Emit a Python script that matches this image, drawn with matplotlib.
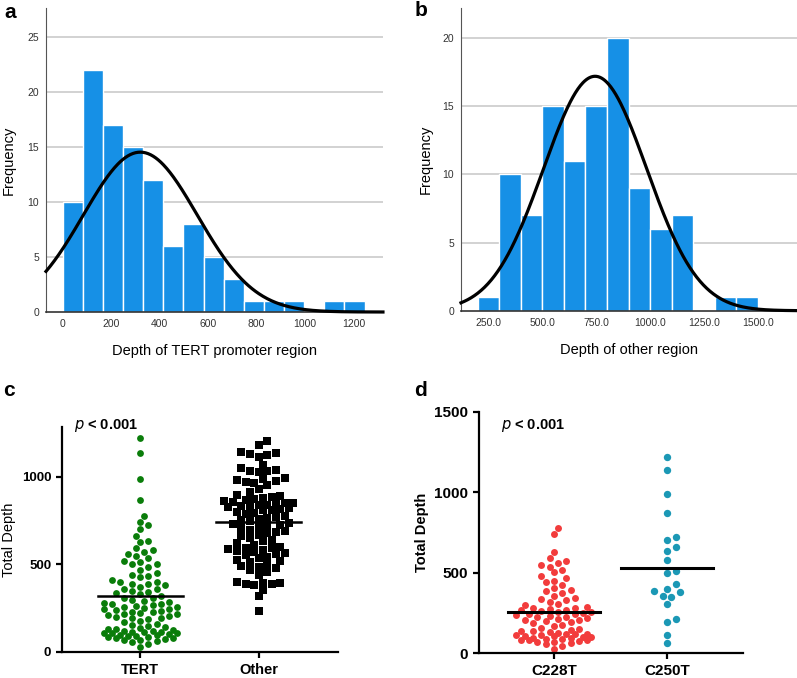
import numpy as np
import matplotlib
matplotlib.use('Agg')
import matplotlib.pyplot as plt

plt.rcParams['font.family'] = ['Liberation Sans', 'DejaVu Sans']

# --- histogram a: depth of TERT promoter region ---
tert_bin_start = 0
tert_bin_width = 83
tert_counts = [10, 22, 17, 15, 12, 6, 8, 5, 3, 1, 1, 1, 0, 1, 1]
tert_fit_mean = 320
tert_fit_sd = 235

# --- histogram b: depth of other region ---
other_bin_start = 200
other_bin_width = 100
other_counts = [1, 10, 7, 15, 11, 15, 20, 9, 6, 7, 0, 1, 1]
other_fit_mean = 745
other_fit_sd = 239

# --- scatter d: depth per mutation type ---
c228t = [28, 45, 55, 62, 68, 72, 76, 80, 82,
         85, 88, 92, 95, 97, 101, 104, 106, 109, 111, 114, 117, 120, 123, 127,
         131, 136, 140, 147, 153, 160,
         170, 178, 186, 193, 198, 204, 208, 213, 219, 224, 228, 233, 238, 242, 246,
         251, 255, 258, 262, 266, 270, 274, 279, 284, 290, 298, 308, 320, 328,
         335, 342, 358, 372, 384, 396, 408,
         425, 440, 452, 468, 482,
         503, 520, 538, 548, 560, 572,
         590, 627, 741, 778]
c250t = [1219, 1137, 988, 869, 722, 702, 660, 633, 582, 513, 499, 433,
         387, 397, 379, 348, 358, 308, 213, 193, 114, 64]

# --- scatter c: TERT vs other region ---
tert_depth = c228t + c250t
other_depth = [234,
               318, 352, 380, 384, 388, 391, 395, 398,
               440, 455, 466, 477, 486, 492, 498,
               510, 518, 526, 534, 542, 550, 556, 562, 568, 574, 580, 586, 590, 594, 598,
               610, 620, 630, 640, 650, 660, 668, 676, 684, 690, 698,
               705, 712, 718, 725, 731, 738, 744, 750, 757, 764, 771, 778, 785, 791, 797,
               808, 812, 816, 820, 824, 828, 832, 836, 840, 844,
               848, 852, 857, 862, 867, 872, 878, 884, 890, 897,
               910, 930, 950, 965, 972, 976, 980, 985, 992,
               1025, 1030, 1035, 1040, 1052, 1065,
               1115, 1122, 1128, 1133, 1140, 1180, 1204]

bar_color = '#1690e6'
fig = plt.figure(figsize=(7.97, 6.78), dpi=100)


def draw_hist(rect, start, width, counts, mu, sd, xlim, ylim, yticks, xticks, xticklabels, xlabel, ylab_x):
    ax = fig.add_axes(rect)
    edges = start + width * np.arange(len(counts))
    ax.bar(edges, counts, width=width, align='edge', color=bar_color,
           edgecolor='white', linewidth=1.0, zorder=2)
    xs = np.linspace(xlim[0], xlim[1], 400)
    n = sum(counts)
    ys = n * width / (sd * np.sqrt(2 * np.pi)) * np.exp(-(xs - mu) ** 2 / (2 * sd ** 2))
    ax.plot(xs, ys, color='black', lw=2.3, zorder=3, clip_on=False)
    ax.set_xlim(xlim)
    ax.set_ylim(ylim)
    ax.set_yticks(yticks)
    ax.set_xticks(xticks)
    ax.set_xticklabels(xticklabels)
    for t in yticks[1:]:
        ax.axhline(t, color='#cfcfcf', lw=1.3, zorder=1)
    for s in ['top', 'right']:
        ax.spines[s].set_visible(False)
    ax.spines['left'].set_color('#555555')
    ax.spines['left'].set_linewidth(0.8)
    ax.spines['bottom'].set_color('#333333')
    ax.spines['bottom'].set_linewidth(1.2)
    ax.tick_params(length=0, labelsize=7.5, labelcolor='#333333', pad=5)
    ax.set_ylabel('Frequency', fontsize=10.5)
    ax.yaxis.set_label_coords(ylab_x, 0.5)
    ax.set_xlabel(xlabel, fontsize=10.5, labelpad=11)
    return ax


draw_hist([0.0577, 0.5398, 0.4228, 0.4484], tert_bin_start, tert_bin_width, tert_counts,
          tert_fit_mean, tert_fit_sd, (-69, 1321), (0, 27.6), [0, 5, 10, 15, 20, 25],
          [0, 200, 400, 600, 800, 1000, 1200], ['0', '200', '400', '600', '800', '1000', '1200'],
          'Depth of TERT promoter region', -0.09)
draw_hist([0.5784, 0.5417, 0.4212, 0.4465], other_bin_start, other_bin_width, other_counts,
          other_fit_mean, other_fit_sd, (123, 1680), (0, 22.2), [0, 5, 10, 15, 20],
          [250, 500, 750, 1000, 1250, 1500], ['250.0', '500.0', '750.0', '1000.0', '1250.0', '1500.0'],
          'Depth of other region', -0.085)


def swarm_x(ax, values, center, diam_px, spread, max_px):
    # beeswarm: nearest free horizontal slot, limited to +-max_px
    vals = np.asarray(values, dtype=float)
    order = np.argsort(vals)
    x0 = ax.transData.transform((center, 0))[0]
    x1 = ax.transData.transform((center + 1, 0))[0]
    px_per_x = x1 - x0
    ypix = np.array([ax.transData.transform((center, v))[1] for v in vals])
    placed = []
    xs = np.zeros(len(vals))
    step = diam_px * 0.6
    mind = diam_px * spread
    cands = [0.0]
    j = 1
    while j * step <= max_px:
        cands += [j * step, -j * step]
        j += 1
    for i in order:
        best, best_d = None, -1
        for off in cands:
            d = min([np.hypot(px - off, py - ypix[i]) for (px, py) in placed] + [1e9])
            if d >= mind:
                best = off
                break
            if d > best_d:
                best, best_d = off, d
        placed.append((best, ypix[i]))
        xs[i] = center + best / px_per_x
    return xs


def draw_dots(rect, groups, colors, markers, sizes, ylim, yticks, ylabel, ylabel_weight,
              ticksize, labelsize, meanhalf, meanlw, spread, max_px):
    ax = fig.add_axes(rect)
    ax.set_xlim(-0.66, 1.67)
    ax.set_ylim(ylim)
    for i, (vals, col, mk, ms) in enumerate(zip(groups, colors, markers, sizes)):
        diam = ms * 100 / 72
        xs = swarm_x(ax, vals, i, diam, spread, max_px)
        ax.plot(xs, vals, linestyle='none', marker=mk, ms=ms, color=col,
                markeredgewidth=0, zorder=2, clip_on=False)
        m = np.mean(vals)
        ax.plot([i - meanhalf, i + meanhalf], [m, m], color='black', lw=meanlw, zorder=3)
    for s in ['top', 'right']:
        ax.spines[s].set_visible(False)
    for s in ['left', 'bottom']:
        ax.spines[s].set_linewidth(1.6)
    ax.set_yticks(yticks)
    ax.tick_params(width=1.6, length=4.5)
    ax.tick_params(axis='y', labelsize=ticksize)
    ax.tick_params(axis='x', labelsize=labelsize)
    for lab in ax.get_yticklabels() + ax.get_xticklabels():
        lab.set_fontweight('bold')
    ax.set_ylabel(ylabel, fontsize=10.5, fontweight=ylabel_weight, labelpad=4)
    return ax


axc = draw_dots([0.0782, 0.0388, 0.3455, 0.331], [tert_depth, other_depth],
                ['#0a7d0a', 'black'], ['o', 's'], [4.9, 5.2], (0, 1282), [0, 500, 1000],
                'Total Depth', 'normal', 9.5, 10.5, 0.36, 1.8, 1.0, 38)
axc.set_xticks([0, 1])
axc.set_xticklabels(['TERT', 'Other'], fontweight='bold')

axd = draw_dots([0.6014, 0.0364, 0.3305, 0.3563], [c228t, c250t],
                ['#f23c3c', '#1b98b5'], ['o', 'o'], [5.0, 5.3], (0, 1500), [0, 500, 1000, 1500],
                'Total Depth', 'bold', 11, 11, 0.41, 2.2, 1.0, 38)
axd.set_xticks([0, 1])
axd.set_xticklabels(['C228T', 'C250T'], fontweight='bold')

# p-value annotations
fig.text(74 / 797, 1 - 426 / 678, r'$\bf{\it{p}}$' + ' < 0.001', fontsize=10.5,
         fontweight='bold', va='center', ha='left')
fig.text(501 / 797, 1 - 426 / 678, r'$\bf{\it{p}}$' + ' < 0.001', fontsize=10.5,
         fontweight='bold', va='center', ha='left')

# panel letters
for letter, x, y in [('a', 4, 12), ('b', 415, 11), ('c', 3, 391), ('d', 414, 390)]:
    fig.text(x / 797, 1 - y / 678, letter, fontsize=15, fontweight='bold', va='center', ha='left')

fig.savefig('out.png', dpi=100)
